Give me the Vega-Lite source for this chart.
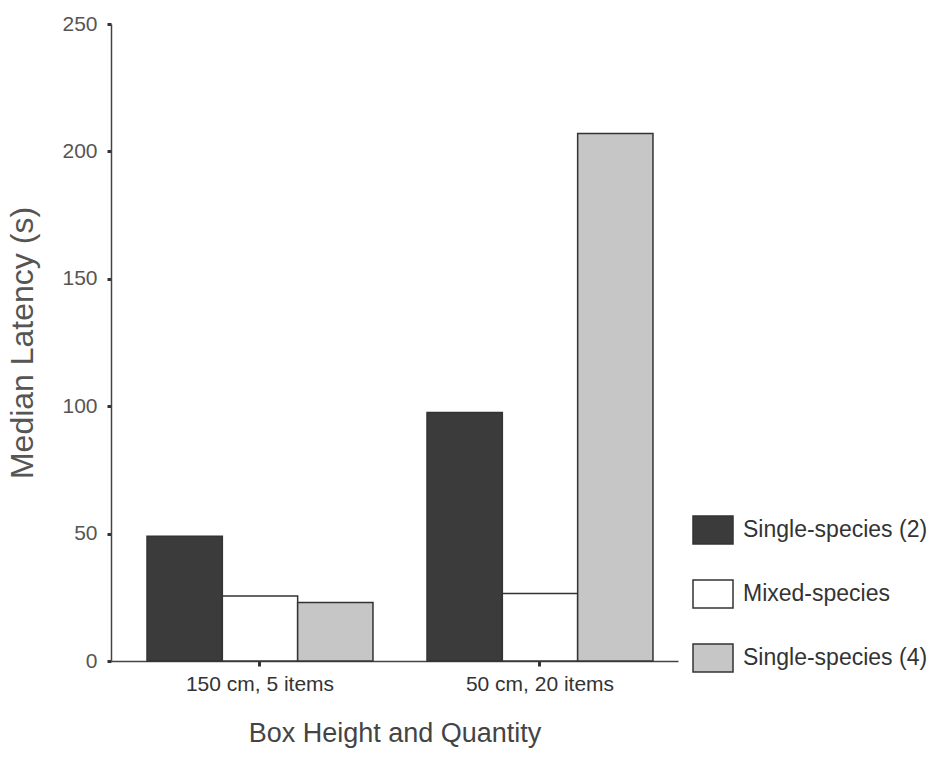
{
  "$schema": "https://vega.github.io/schema/vega-lite/v6.json",
  "autosize": "none",
  "width": 567,
  "height": 637,
  "padding": {"left": 111, "top": 24, "right": 270, "bottom": 118},
  "background": "white",
  "data": {
    "values": [
      {"group": "150 cm, 5  items", "series": "Single-species (2)", "latency": 49},
      {"group": "150 cm, 5  items", "series": "Mixed-species", "latency": 25.5},
      {"group": "150 cm, 5  items", "series": "Single-species (4)", "latency": 23},
      {"group": "50 cm, 20 items", "series": "Single-species (2)", "latency": 97.5},
      {"group": "50 cm, 20 items", "series": "Mixed-species", "latency": 26.5},
      {"group": "50 cm, 20 items", "series": "Single-species (4)", "latency": 207}
    ]
  },
  "mark": {"type": "bar", "stroke": "#333333", "strokeWidth": 1.5},
  "encoding": {
    "x": {
      "field": "group",
      "type": "nominal",
      "sort": null,
      "scale": {"paddingInner": 0.193, "paddingOuter": 0.109, "align": 0.59},
      "axis": {
        "title": "Box Height and Quantity",
        "titleFont": "Liberation Sans",
        "titleFontSize": 27,
        "titleFontWeight": "normal",
        "titleColor": "#444444",
        "titlePadding": 26,
        "labelAngle": 0,
        "labelFont": "Liberation Sans",
        "labelFontSize": 21,
        "labelColor": "#333333",
        "labelPadding": 7,
        "domainColor": "#444444",
        "domainWidth": 1.5,
        "tickColor": "#333333",
        "tickWidth": 3,
        "tickSize": 5
      }
    },
    "xOffset": {
      "field": "series",
      "type": "nominal",
      "sort": ["Single-species (2)", "Mixed-species", "Single-species (4)"],
      "scale": {"paddingInner": 0, "paddingOuter": 0}
    },
    "y": {
      "field": "latency",
      "type": "quantitative",
      "scale": {"domain": [0, 250], "nice": false},
      "axis": {
        "title": "Median Latency (s)",
        "titleFont": "Liberation Sans",
        "titleFontSize": 32,
        "titleFontWeight": "normal",
        "titleColor": "#555555",
        "titlePadding": 22,
        "values": [0, 50, 100, 150, 200, 250],
        "labelFont": "Liberation Sans",
        "labelFontSize": 21,
        "labelColor": "#555555",
        "labelPadding": 10,
        "grid": false,
        "domainColor": "#444444",
        "domainWidth": 1.5,
        "tickColor": "#333333",
        "tickWidth": 3,
        "tickSize": 4
      }
    },
    "color": {
      "field": "series",
      "type": "nominal",
      "sort": ["Single-species (2)", "Mixed-species", "Single-species (4)"],
      "scale": {
        "domain": ["Single-species (2)", "Mixed-species", "Single-species (4)"],
        "range": ["#3b3b3b", "#ffffff", "#c6c6c6"]
      },
      "legend": {
        "title": null,
        "orient": "none",
        "legendX": 581,
        "legendY": 485,
        "symbolType": "M-1,-0.7L1,-0.7L1,0.7L-1,0.7Z",
        "symbolSize": 1600,
        "symbolStrokeColor": "#333333",
        "symbolStrokeWidth": 1.5,
        "symbolOpacity": 1,
        "labelFont": "Liberation Sans",
        "labelFontSize": 23,
        "labelColor": "#333333",
        "labelOffset": 9,
        "rowPadding": 26,
        "labelLimit": 300
      }
    }
  },
  "config": {"view": {"stroke": null}}
}
